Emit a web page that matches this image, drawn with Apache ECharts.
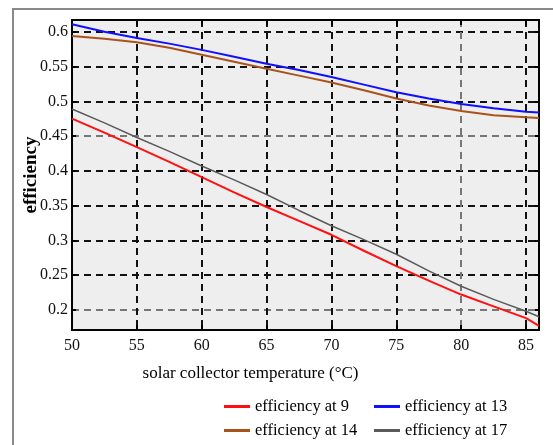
<!DOCTYPE html>
<html>
<head>
<meta charset="utf-8">
<script src="https://cdn.jsdelivr.net/npm/echarts@6/dist/echarts.min.js"></script>
<style>
  html, body { margin: 0; padding: 0; background: #fff; }
  #chart { width: 553px; height: 445px; }
</style>
</head>
<body>
<div id="chart"></div>
<script>
// temperatures (°C)
var temps = [50, 52.5, 55, 57.5, 60, 62.5, 65, 67.5, 70, 72.5, 75, 77.5, 80, 82.5, 85, 86];
// efficiency curves
var eff9 = [0.475, 0.455, 0.434, 0.413, 0.391, 0.369, 0.348, 0.328, 0.308, 0.285, 0.263, 0.242, 0.222, 0.205, 0.188, 0.177];
var eff13 = [0.611, 0.600, 0.591, 0.583, 0.574, 0.564, 0.554, 0.545, 0.535, 0.524, 0.513, 0.504, 0.496, 0.490, 0.485, 0.484];
var eff14 = [0.594, 0.590, 0.585, 0.577, 0.567, 0.557, 0.547, 0.537, 0.527, 0.516, 0.504, 0.494, 0.486, 0.480, 0.477, 0.476];
var eff17 = [0.489, 0.469, 0.448, 0.428, 0.407, 0.387, 0.366, 0.343, 0.321, 0.301, 0.280, 0.256, 0.234, 0.215, 0.198, 0.190];
var yTicks = [0.2, 0.25, 0.3, 0.35, 0.4, 0.45, 0.5, 0.55, 0.6];

function pairs (ys) {
  var out = [];
  for (var i = 0; i < temps.length; i++) {
    out.push([temps[i], ys[i]]);
  }
  return out
}

var serif = 'Liberation Serif';
var chart = echarts.init(document.getElementById('chart'));

function line (name, ys, color, width) {
  return {
    name: name,
    type: 'line',
    symbol: 'none',
    data: pairs(ys),
    itemStyle: { color: color },
    lineStyle: { color: color, width: width }
  }
}

var legendText = { fontFamily: serif, fontSize: 16.5, color: '#000' };

chart.setOption({
  animation: false,
  graphic: [
    {
      type: 'rect',
      shape: { x: 13, y: 9, width: 700, height: 600 },
      style: { fill: 'none', stroke: '#8a8a8a', lineWidth: 2 },
      silent: true
    }
  ],
  grid: {
    left: 72,
    right: 14,
    top: 20,
    bottom: 115,
    show: true,
    backgroundColor: '#eeeeee',
    borderColor: '#000',
    borderWidth: 2
  },
  legend: [
    {
      orient: 'vertical',
      left: 219,
      top: 393,
      itemWidth: 26,
      itemHeight: 3,
      itemGap: 7,
      icon: 'rect',
      textStyle: legendText,
      data: ['efficiency at 9', 'efficiency at 14']
    },
    {
      orient: 'vertical',
      left: 369,
      top: 393,
      itemWidth: 26,
      itemHeight: 3,
      itemGap: 7,
      icon: 'rect',
      textStyle: legendText,
      data: ['efficiency at 13', 'efficiency at 17']
    }
  ],
  xAxis: [
    {
      type: 'value',
      min: 50,
      max: 86,
      interval: 5,
      name: 'solar collector temperature (°C)',
      nameLocation: 'middle',
      nameGap: 35,
      nameTextStyle: { fontFamily: serif, fontSize: 17, color: '#000', padding: [0, 110, 0, 0] },
      axisLine: { lineStyle: { color: '#000', width: 2 } },
      axisTick: { inside: true, length: 5, lineStyle: { color: '#000', width: 2 } },
      axisLabel: { fontFamily: serif, fontSize: 16, color: '#111', margin: 8, showMaxLabel: false },
      splitLine: {
        show: true,
        lineStyle: {
          color: ['#111', '#111', '#111', '#111', '#111', '#111', '#777', '#111', '#111'],
          width: 2,
          type: [7, 5]
        }
      }
    },
    {
      type: 'value',
      position: 'top',
      min: 50,
      max: 86,
      interval: 5,
      axisLine: { lineStyle: { color: '#000', width: 2 } },
      axisTick: { inside: true, length: 5, lineStyle: { color: '#000', width: 2 } },
      axisLabel: { show: false },
      splitLine: { show: false }
    }
  ],
  yAxis: [
    {
      type: 'value',
      min: 0.171,
      max: 0.617,
      name: 'efficiency',
      nameLocation: 'middle',
      nameGap: 31,
      nameMoveOverlap: false,
      nameTextStyle: { fontFamily: serif, fontSize: 19, fontWeight: 'bold', color: '#000' },
      axisLine: { lineStyle: { color: '#000', width: 2 } },
      axisTick: { inside: true, length: 4, customValues: yTicks, lineStyle: { color: '#000', width: 2 } },
      axisLabel: { fontFamily: serif, fontSize: 16, color: '#111', margin: 4, customValues: yTicks },
      splitLine: {
        show: true,
        lineStyle: {
          color: ['#777', '#111', '#111', '#111', '#111', '#777', '#111', '#111', '#111'],
          width: 2,
          type: [7, 5]
        }
      }
    },
    {
      type: 'value',
      position: 'right',
      min: 0.171,
      max: 0.617,
      axisLine: { lineStyle: { color: '#000', width: 2 } },
      axisTick: { inside: true, length: 4, customValues: yTicks, lineStyle: { color: '#000', width: 2 } },
      axisLabel: { show: false },
      splitLine: { show: false }
    }
  ],
  series: [
    line('efficiency at 9', eff9, '#ff1010', 2),
    line('efficiency at 13', eff13, '#1010ff', 2),
    line('efficiency at 14', eff14, '#a9531c', 2),
    line('efficiency at 17', eff17, '#5a5a5a', 1.5)
  ]
})
</script>
</body>
</html>
